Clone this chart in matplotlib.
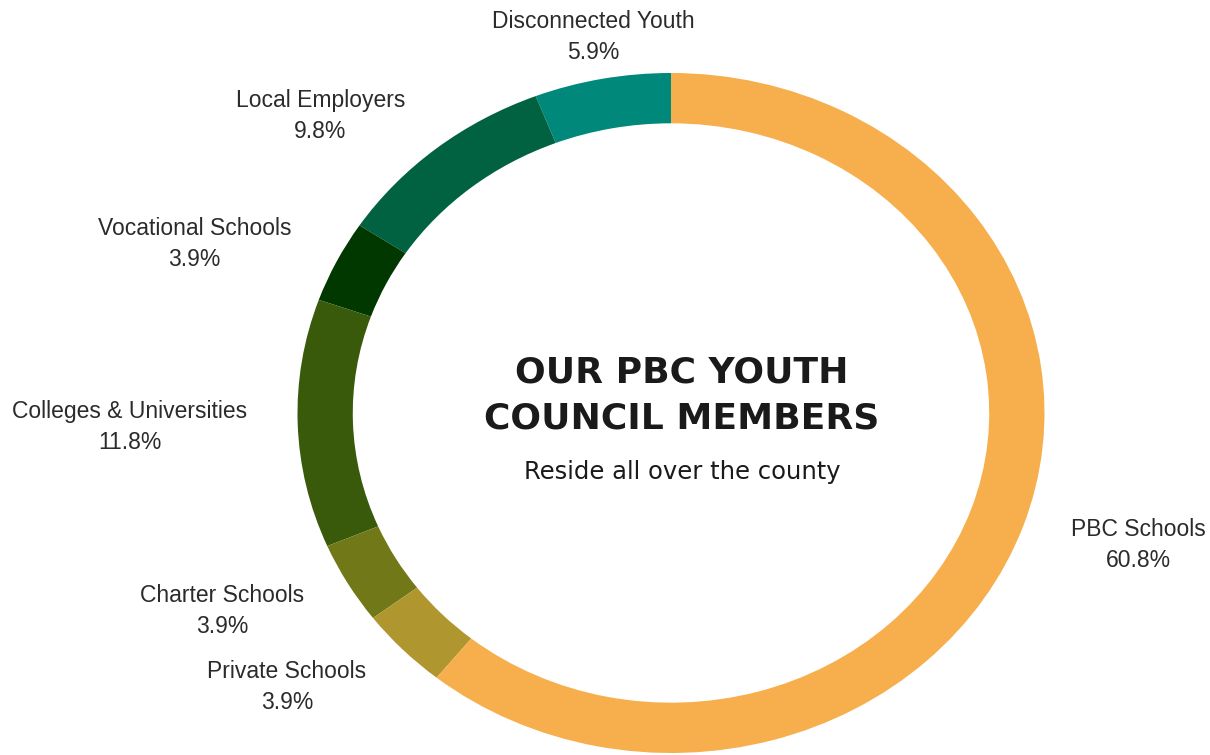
import numpy as np
import matplotlib.pyplot as plt

# data
labels = ['Disconnected Youth', 'Local Employers', 'Vocational Schools',
          'Colleges & Universities', 'Charter Schools', 'Private Schools',
          'PBC Schools']
shares = [5.9, 9.8, 3.9, 11.8, 3.9, 3.9, 60.8]
colors = ['#00897A', '#006241', '#003800', '#395A0B', '#717817', '#B0962E',
          '#F6AF4C']

title_lines = ['OUR PBC YOUTH', 'COUNCIL MEMBERS']
subtitle = 'Reside all over the county'

fig = plt.figure(figsize=(12.1, 7.55), dpi=100)
# ring is an ellipse, so the axes are not square
ax = fig.add_axes([297.5 / 1210, 2 / 755, 747 / 1210, 680 / 755])

wedges, _ = ax.pie(shares, colors=colors, startangle=90, counterclock=True,
                   radius=1.0,
                   wedgeprops=dict(width=0.148, edgecolor='none', linewidth=0))
ax.set_aspect('auto')
ax.set_xlim(-1, 1)
ax.set_ylim(-1, 1)
ax.axis('off')

# labels placed just outside each wedge
for w, name, val in zip(wedges, labels, shares):
    mid = np.deg2rad((w.theta1 + w.theta2) / 2)
    c, s = np.cos(mid), np.sin(mid)
    x = 1.135 * c if abs(c) > 0.3 else 1.13 * c
    y = (1.15 * s if s < 0 else 1.13 * s) - 0.006
    ha = 'right' if c < -0.3 else ('left' if c > 0.3 else 'center')
    ax.text(x, y, f'{name}\n{val:.1f}%',
            ha=ha, va='center', multialignment='center',
            fontsize=16.5, family='Liberation Sans', color='#2b2b2b',
            linespacing=1.45, clip_on=False)

ax.text(0.029, 0.051, '\n'.join(title_lines), ha='center', va='center',
        fontsize=26, fontweight='bold', family='DejaVu Sans', color='#1a1a1a',
        linespacing=1.42)
ax.text(0.029, -0.174, subtitle, ha='center', va='center', fontsize=17.5,
        family='DejaVu Sans', color='#1a1a1a')

fig.savefig('out.png', dpi=100)
